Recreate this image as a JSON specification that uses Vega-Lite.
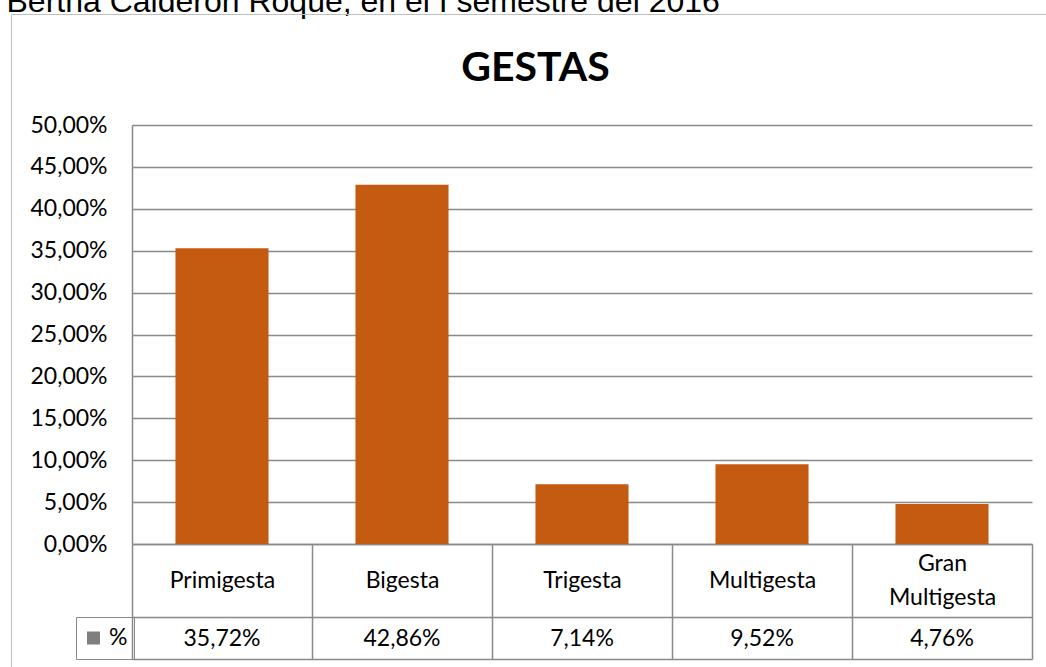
{
  "$schema": "https://vega.github.io/schema/vega-lite/v6.json",
  "width": 900,
  "height": 419,
  "autosize": {"type": "none"},
  "padding": {"left": 132, "top": 125, "right": 14, "bottom": 123},
  "background": "white",
  "data": {
    "values": [
      {"cat": "Primigesta", "pct": 0.353, "label": "35,72%", "serie": "%"},
      {"cat": "Bigesta", "pct": 0.4286, "label": "42,86%", "serie": "%"},
      {"cat": "Trigesta", "pct": 0.0714, "label": "7,14%", "serie": "%"},
      {"cat": "Multigesta", "pct": 0.0952, "label": "9,52%", "serie": "%"},
      {"cat": "Gran Multigesta", "pct": 0.0476, "label": "4,76%", "serie": "%"}
    ]
  },
  "encoding": {
    "y": {
      "field": "pct",
      "type": "quantitative",
      "scale": {"domain": [0, 0.5], "nice": false, "zero": true},
      "axis": {
        "title": "GESTAS",
        "titleX": 403,
        "titleY": -45,
        "titleAngle": 0,
        "titleAlign": "center",
        "titleBaseline": "alphabetic",
        "titleFont": "Lato",
        "titleFontSize": 41,
        "titleFontWeight": "bold",
        "titleColor": "#000000",
        "values": [0, 0.05, 0.1, 0.15, 0.2, 0.25, 0.3, 0.35, 0.4, 0.45, 0.5],
        "labelExpr": "replace(format(datum.value, '.2%'), '.', ',')",
        "labelFont": "Lato",
        "labelFontSize": 23,
        "labelColor": "#000000",
        "labelPadding": 25,
        "labelOverlap": false,
        "ticks": false,
        "domain": true,
        "domainColor": "#898989",
        "domainWidth": 1.5,
        "grid": true,
        "gridColor": "#898989",
        "gridWidth": 1.5
      }
    }
  },
  "layer": [
    {
      "mark": {"type": "bar", "width": {"band": 0.517}, "color": "#C55A11"},
      "encoding": {
        "x": {
          "field": "cat",
          "type": "nominal",
          "sort": null,
          "scale": {"paddingInner": 0, "paddingOuter": 0},
          "axis": {
            "orient": "bottom",
            "title": null,
            "labelAngle": 0,
            "labelExpr": "length(split(datum.label, ' ')) > 1 ? [split(datum.label, ' ')[0], '\u2800', split(datum.label, ' ')[1]] : ['', datum.label]",
            "labelFont": "Lato",
            "labelFontSize": 23,
            "labelColor": "#000000",
            "labelLineHeight": 17,
            "labelBaseline": "middle",
            "labelPadding": -96,
            "labelOverlap": false,
            "labelLimit": 0,
            "ticks": true,
            "tickBand": "extent",
            "tickSize": 115,
            "tickColor": "#898989",
            "tickWidth": 1.5,
            "domain": true,
            "domainColor": "#898989",
            "domainWidth": 1.5,
            "grid": false
          }
        }
      }
    },
    {
      "mark": {"type": "bar", "opacity": 0},
      "encoding": {
        "x": {
          "field": "label",
          "type": "nominal",
          "sort": null,
          "axis": {
            "orient": "bottom",
            "offset": 73,
            "title": null,
            "labelAngle": 0,
            "labelFont": "Lato",
            "labelFontSize": 23,
            "labelColor": "#000000",
            "labelBaseline": "middle",
            "labelPadding": 21,
            "labelOverlap": false,
            "ticks": false,
            "domain": true,
            "domainColor": "#898989",
            "domainWidth": 1.5,
            "grid": false
          }
        },
        "color": {
          "field": "serie",
          "type": "nominal",
          "scale": {"range": ["#7f7f7f"]},
          "legend": {
            "orient": "none",
            "legendX": -56,
            "legendY": 492,
            "title": null,
            "padding": 6,
            "clipHeight": 30,
            "symbolType": "square",
            "symbolSize": 169,
            "symbolStrokeWidth": 0,
            "symbolOpacity": 1,
            "labelOffset": 4,
            "labelFont": "Lato",
            "labelFontSize": 23,
            "labelColor": "#000000",
            "strokeColor": "#898989"
          }
        }
      }
    },
    {
      "mark": {"type": "bar"},
      "encoding": {
        "x": {
          "field": "cat",
          "type": "nominal",
          "sort": null,
          "axis": {
            "orient": "bottom",
            "offset": 115,
            "title": "Bertha Calderón Roque, en el I semestre del 2016",
            "titleX": -126,
            "titleY": -648,
            "titleAngle": 0,
            "titleAlign": "left",
            "titleBaseline": "alphabetic",
            "titleFont": "Liberation Sans",
            "titleFontSize": 32,
            "titleFontWeight": "normal",
            "titleColor": "#000000",
            "titleLimit": 0,
            "labels": false,
            "ticks": false,
            "domain": true,
            "domainColor": "#898989",
            "domainWidth": 1.5,
            "grid": false
          }
        },
        "opacity": {
          "field": "serie",
          "type": "ordinal",
          "scale": {"range": [0, 0]},
          "legend": {
            "orient": "none",
            "legendX": -121,
            "legendY": -111,
            "title": null,
            "padding": 1200,
            "strokeColor": "#bfbfbf",
            "labelFontSize": 1,
            "symbolSize": 1
          }
        }
      }
    }
  ],
  "resolve": {
    "scale": {"x": "independent", "color": "independent", "opacity": "independent"},
    "axis": {"x": "independent"}
  },
  "config": {"view": {"stroke": null}, "font": "Lato"}
}
